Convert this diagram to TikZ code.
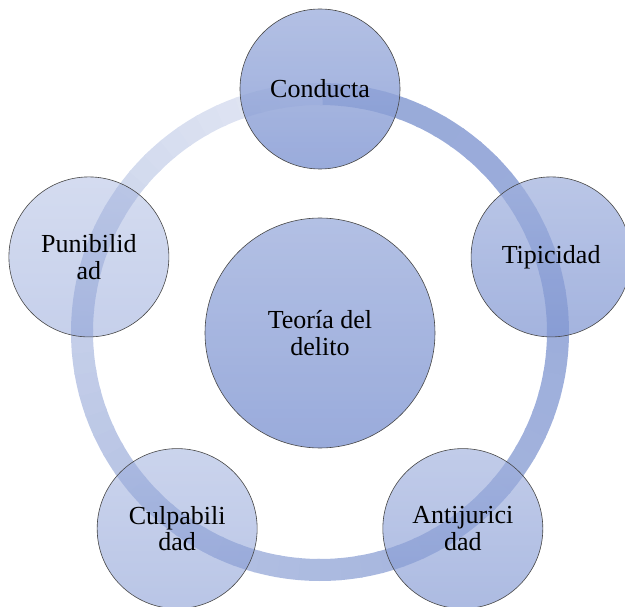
\documentclass[tikz,border=0pt]{standalone}
\usepackage{fontspec}
\setmainfont{Liberation Serif}
\usetikzlibrary{shapes}
\definecolor{nodeblue}{RGB}{128,150,210}
\definecolor{ringdark}{RGB}{152,170,217}
\definecolor{ringlight}{RGB}{230,234,245}

\begin{document}
\begin{tikzpicture}[
  etapa/.style={draw=black!72,line width=0.6bp,circle,minimum size=160bp,inner sep=0pt,align=center,
    top color=nodeblue!75!white,bottom color=nodeblue,text opacity=1,
    font=\fontsize{26bp}{26.5bp}\selectfont},
  anillo/.style={line width=22bp}]

\useasboundingbox (-320bp,-275bp) rectangle (305bp,332bp);

% anillo de fondo
\foreach \i in {0,...,71}{
  \pgfmathsetmacro\a{90-5*\i}
  \pgfmathsetmacro\b{\a-5.6}
  \pgfmathtruncatemacro\p{100*(1-((\i+0.5)/72)^2)}
  \draw [anillo,draw=ringdark!\p!ringlight] (\a:238bp) arc(\a:\b:238bp);
}

\node (Teo) at (0bp,-1bp)[etapa,minimum size=230bp,fill opacity=0.8] {Teoría del\\delito};
\node (Con) at (90:243bp)[etapa,fill opacity=0.8] {Conducta};
\node (Tip) at (18:243bp)[etapa,fill opacity=0.72] {Tipicidad};
\node (Ant) at (-54:243bp)[etapa,fill opacity=0.65] {Antijurici\\dad};
\node (Cul) at (-126:243bp)[etapa,fill opacity=0.55] {Culpabili\\dad};
\node (Pun) at (162:243bp)[etapa,fill opacity=0.45] {Punibilid\\ad};
\end{tikzpicture}
\end{document}
